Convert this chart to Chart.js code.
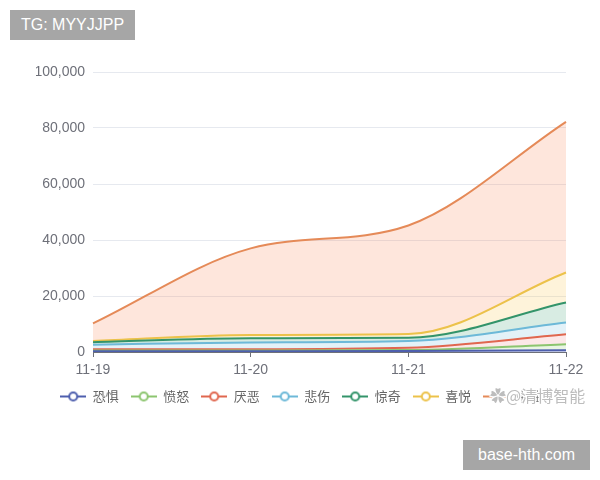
<!DOCTYPE html>
<html>
<head>
<meta charset="utf-8">
<script src="https://cdn.jsdelivr.net/npm/chart.js@4"></script>
<style>
body { margin: 0; background: #fff; }
#wrap { position: relative; width: 600px; height: 480px; }
.tag { position: absolute; background: #a6a6a6; color: #fff; font: 16px "Liberation Sans", Arial, sans-serif; line-height: 30px; text-align: center; }
#wm { position: absolute; left: 490px; top: 385px; font: 16px "Noto Sans CJK SC", sans-serif; color: #bdbdbd; line-height: 20px;
  text-shadow: -1px -1px 0 #fff, 1px -1px 0 #fff, -1px 1px 0 #fff, 1px 1px 0 #fff, 0 0 3px #fff, 0 0 3px #fff; }
</style>
</head>
<body>
<div id="wrap">
  <canvas id="chart" width="600" height="480"></canvas>
  <div class="tag" style="left:10px;top:10px;width:125px;height:30px;">TG: MYYJJPP</div>
  <div class="tag" style="left:463px;top:440px;width:127px;height:30px;">base-hth.com</div>
  <div id="wm">✿@清博智能</div>
</div>
<script>
// dates on the x axis
const days = ['11-19', '11-20', '11-21', '11-22'];
// emotion series, stacked bottom to top
const fear     = [300, 300, 350, 600];
const anger    = [200, 250, 350, 2200];
const disgust  = [500, 450, 800, 3500];
const sadness  = [1600, 2400, 2400, 4200];
const surprise = [900, 1500, 1200, 7200];
const joy      = [400, 1200, 1300, 10700];
const neutral  = [6300, 30900, 38800, 53800];
const yTicks = [0, 20000, 40000, 60000, 80000, 100000];

const series = [
  ['恐惧', fear, '#4e5fae', 'rgba(84,112,198,0.2)'],
  ['愤怒', anger, '#8cc56f', 'rgba(145,204,117,0.2)'],
  ['厌恶', disgust, '#e0674f', 'rgba(238,102,102,0.15)'],
  ['悲伤', sadness, '#6db9d8', 'rgba(115,192,222,0.2)'],
  ['惊奇', surprise, '#33946a', 'rgba(59,162,114,0.2)'],
  ['喜悦', joy, '#ecc24a', 'rgba(250,200,88,0.22)'],
  ['中性', neutral, '#e58a58', 'rgba(252,132,82,0.2)']
];

function legendIcon(color) {
  const c = document.createElement('canvas');
  c.width = 26; c.height = 12;
  const g = c.getContext('2d');
  g.strokeStyle = color; g.lineWidth = 2;
  g.beginPath(); g.moveTo(0, 6); g.lineTo(26, 6); g.stroke();
  g.fillStyle = '#fff';
  g.beginPath(); g.arc(13, 6, 4, 0, Math.PI * 2); g.fill(); g.stroke();
  return c;
}

const datasets = series.map((s, i) => ({
  label: s[0],
  data: s[1],
  borderColor: s[2],
  backgroundColor: s[3],
  borderWidth: 2,
  pointRadius: 0,
  fill: i === 0 ? 'origin' : '-1',
  cubicInterpolationMode: 'monotone',
  icon: legendIcon(s[2])
}));

new Chart(document.getElementById('chart'), {
  type: 'line',
  data: { labels: days, datasets: datasets },
  options: {
    responsive: false,
    animation: false,
    layout: { padding: { top: 72, right: 34, bottom: 67, left: 36 } },
    plugins: {
      tooltip: { enabled: false },
      legend: {
        position: 'bottom',
        labels: {
          usePointStyle: true,
          pointStyleWidth: 26,
          padding: 12,
          color: '#666',
          font: { size: 13, family: '"Noto Sans CJK SC", sans-serif' },
          generateLabels(chart) {
            return Chart.defaults.plugins.legend.labels.generateLabels(chart).map(l => {
              l.pointStyle = chart.data.datasets[l.datasetIndex].icon;
              return l;
            });
          }
        }
      }
    },
    scales: {
      x: {
        offset: false,
        grid: { drawOnChartArea: false, drawTicks: true, tickLength: 5, color: '#6e7079' },
        border: { color: '#6e7079', width: 1 },
        ticks: { color: '#6e7079', padding: 5, maxRotation: 0, font: { size: 14, family: '"Liberation Sans", Arial, sans-serif' } },
        afterFit(scale) { scale.height = 26; }
      },
      y: {
        stacked: true,
        min: 0,
        max: 100000,
        afterBuildTicks(scale) { scale.ticks = yTicks.map(v => ({ value: v })); },
        grid: { color: '#e6e9ef', drawTicks: false },
        border: { display: false },
        ticks: {
          color: '#6e7079', padding: 8,
          font: { size: 14, family: '"Liberation Sans", Arial, sans-serif' },
          callback: v => v.toLocaleString('en-US')
        },
        afterFit(scale) { scale.width = 57; }
      }
    }
  }
});
</script>
</body>
</html>
